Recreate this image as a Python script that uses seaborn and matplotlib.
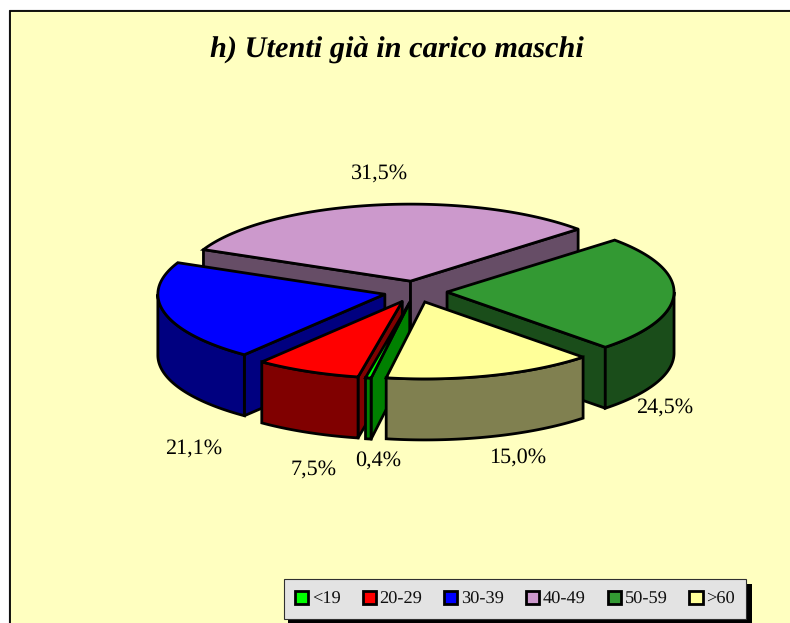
import numpy as np
import matplotlib
matplotlib.use('Agg')
import matplotlib.pyplot as plt
from matplotlib.patches import Polygon, Rectangle, Patch
import seaborn as sns

# data
categories = ['<19', '20-29', '30-39', '40-49', '50-59', '>60']
values = [0.4, 7.5, 21.1, 31.5, 24.5, 15.0]
pct_labels = ['0,4%', '7,5%', '21,1%', '31,5%', '24,5%', '15,0%']
top_colors = ['#00FF00', '#FF0000', '#0000FF', '#CC99CC', '#339933', '#FFFF99']
wall_colors = ['#008000', '#800000', '#000080', '#664D66', '#1A4D1A', '#808050']
title = 'h) Utenti già in carico maschi'

# pie geometry, in pixels
cx, cy = 415.5, 291.7
a, b = 227, 77
depth = 61
explode = 0.139
start = -99.8

label_pos = [(378, 461), (314, 470), (194, 449), (380, 174), (665, 408), (518, 458)]

sns.set_theme(style='white')
plt.rcParams['font.family'] = ['Liberation Serif', 'DejaVu Serif']
plt.rcParams['text.hinting'] = 'no_hinting'

fig = plt.figure(figsize=(7.9, 6.23), dpi=100, facecolor='white')
ax = fig.add_axes([0, 0, 1, 1])
ax.set_xlim(0, 790)
ax.set_ylim(623, 0)
ax.axis('off')

# frame of the chart area, it runs off the right and bottom of the picture
ax.add_patch(Rectangle((8.5, 9.5), 800, 640, fc='none', ec='#B0B0B0', lw=1, zorder=0))
ax.add_patch(Rectangle((9.7, 10.7), 800, 640, fc='#FFFFC0', ec='black', lw=1.3, zorder=1))


def ell(t, ox, oy, dz=0):
    t = np.radians(t)
    return np.column_stack([ox + a * np.cos(t), oy - b * np.sin(t) + dz])


def cut_face(t, ox, oy, color, z):
    p = ell(t, ox, oy)[0]
    pts = [(ox, oy), p, (p[0], p[1] + depth), (ox, oy + depth)]
    ax.add_patch(Polygon(pts, fc=color, ec='black', lw=2, joinstyle='round', zorder=z))


# slices go clockwise from start
edges = start - np.cumsum([0] + values) * 3.6
wedges = []
for i, v in enumerate(values):
    t0, t1 = edges[i], edges[i + 1]
    mid = np.radians((t0 + t1) / 2)
    ox = cx + explode * a * np.cos(mid)
    oy = cy - explode * b * np.sin(mid)
    wedges.append((t0, t1, ox, oy))

# back to front
order = [3, 4, 2, 1, 0, 5]
for n, i in enumerate(order):
    t0, t1, ox, oy = wedges[i]
    z = 2 + n
    # a cut face shows when its normal points at the viewer
    if np.sin(np.radians(t0 + 90)) < 0:
        cut_face(t0, ox, oy, wall_colors[i], z)
    if np.sin(np.radians(t1 - 90)) < 0:
        cut_face(t1, ox, oy, wall_colors[i], z)
    # outer wall, only the lower half of the rim
    lo = t1
    hi = t0
    k = np.floor((hi + 180) / 360)
    lo_vis = max(lo, -180 + 360 * k)
    hi_vis = min(hi, 360 * k)
    if hi_vis > lo_vis:
        ts = np.linspace(hi_vis, lo_vis, 80)
        up = ell(ts, ox, oy)
        down = ell(ts, ox, oy, depth)
        ax.add_patch(Polygon(np.vstack([up, down[::-1]]), fc=wall_colors[i], ec='black', lw=2, zorder=z))
    ts = np.linspace(t0, t1, 120)
    top = np.vstack([[(ox, oy)], ell(ts, ox, oy)])
    ax.add_patch(Polygon(top, fc=top_colors[i], ec='black', lw=2, zorder=z))

for (x, y), s in zip(label_pos, pct_labels):
    ax.text(x, y, s, fontsize=15.9, color='black', ha='center', va='center', zorder=20)

ax.text(396.5, 50, title, fontsize=21.9, fontweight='bold', fontstyle='italic',
        color='black', ha='center', va='center', zorder=20)

# legend with a hard black shadow
ax.add_patch(Rectangle((288, 584), 464, 39, fc='black', ec='none', zorder=21))
handles = [Patch(fc=c, ec='black', lw=2) for c in top_colors]
leg = ax.legend(handles, categories, ncol=6, loc='center', fontsize=13.2,
                bbox_to_anchor=(515 / 790, 1 - 599 / 623), frameon=True, fancybox=False,
                facecolor='#E3E3E3', edgecolor='#303030', framealpha=1,
                handlelength=0.72, handleheight=0.72, handletextpad=0.2, columnspacing=1.2,
                borderpad=0.62, borderaxespad=0, labelcolor='#111111')
leg.set_zorder(22)
leg.get_frame().set_linewidth(0.8)

fig.savefig('out.png', dpi=100)
